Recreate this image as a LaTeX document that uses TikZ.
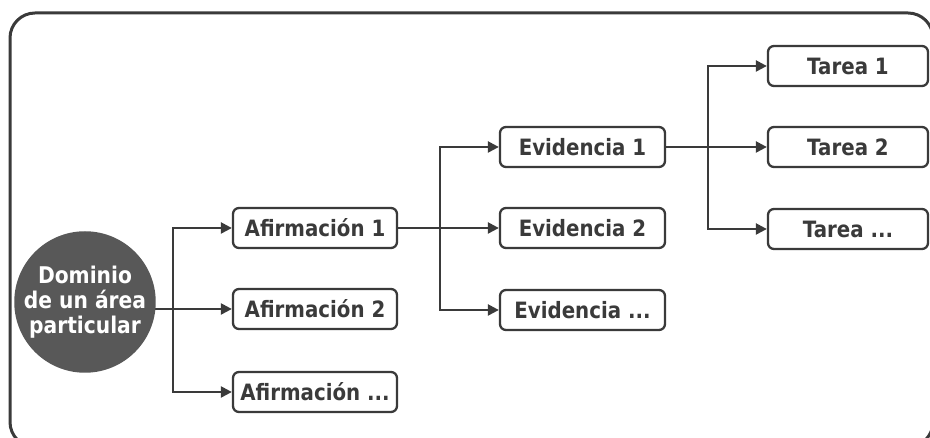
\documentclass[tikz,border=0pt]{standalone}
\usepackage{fontspec}
\setmainfont[FakeStretch=0.88]{DejaVu Sans}
\usetikzlibrary{arrows.meta,backgrounds}
\definecolor{ink}{HTML}{3A3A3A}
\definecolor{txt}{HTML}{3A3A3A}
\definecolor{disc}{HTML}{585858}
\tikzset{
  box/.style={draw=ink, line width=2.3pt, rounded corners=6pt, fill=white,
    minimum height=40pt, inner sep=0pt, text=txt,
    font=\fontsize{22.5}{26}\selectfont\bfseries},
  abox/.style={box, minimum width=164pt},
  ebox/.style={box, minimum width=165pt},
  tbox/.style={box, minimum width=160pt},
  arr/.style={draw=ink, line width=2.3pt, -{Triangle[length=11pt,width=11pt]}},
}
\begin{document}
\begin{tikzpicture}[x=1pt,y=1pt]
\useasboundingbox (0,0) rectangle (930,438);
\clip (0,0) rectangle (930,438);
\draw[ink, line width=3pt, rounded corners=25pt] (10,-9) rectangle (933,425);

\node[circle, fill=disc, minimum size=132pt, inner sep=0pt, text=white,
      align=center, font=\fontsize{23}{25}\selectfont\bfseries] (dom) at (85,136)
      {Dominio\\de un área\\particular};

\node[abox] (a1) at (315,210) {Afirmación 1};
\node[abox] (a2) at (315,129) {Afirmación 2};
\node[abox] (a3) at (315,46) {Afirmación ...};

\node[ebox] (e1) at (582.5,291) {Evidencia 1};
\node[ebox] (e2) at (582.5,210) {Evidencia 2};
\node[ebox] (e3) at (582.5,128) {Evidencia ...};

\node[tbox] (t1) at (848,372) {Tarea 1};
\node[tbox] (t2) at (848,291) {Tarea 2};
\node[tbox] (t3) at (848,209) {Tarea ...};

\coordinate (b1) at (173,129);
\coordinate (b2) at (440,210);
\coordinate (b3) at (708,291);

\begin{scope}[on background layer]
\draw[arr] (dom.center |- a2.west) -- (a2.west);
\end{scope}
\draw[arr] (b1) |- (a1.west);
\draw[arr] (b1) |- (a3.west);

\draw[arr] (a1.east) -- (e2.west);
\draw[arr] (b2) |- (e1.west);
\draw[arr] (b2) |- (e3.west);

\draw[arr] (e1.east) -- (t2.west);
\draw[arr] (b3) |- (t1.west);
\draw[arr] (b3) |- (t3.west);
\end{tikzpicture}
\end{document}
